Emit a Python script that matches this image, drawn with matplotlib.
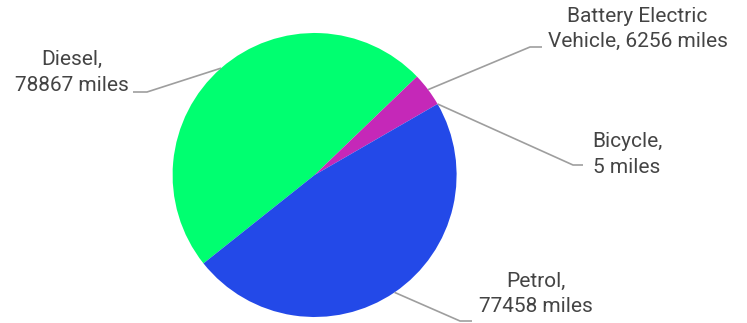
import numpy as np
import matplotlib
matplotlib.use("Agg")
import matplotlib.pyplot as plt

# Distance travelled per vehicle type
categories = ["Diesel", "Battery Electric Vehicle", "Bicycle", "Petrol"]
miles = [78867, 6256, 5, 77458]
colors = ["#00FF70", "#C528B8", "#C528B8", "#2349E8"]

# label text lines (two per slice)
label_lines = [
    ["Diesel,", "78867 miles"],
    ["Battery Electric", "Vehicle, 6256 miles"],
    ["Bicycle,", "5 miles"],
    ["Petrol,", "77458 miles"],
]

W, H = 747, 323
fig = plt.figure(figsize=(W / 100, H / 100), dpi=100)
ax = fig.add_axes([0, 0, 1, 1])

cx, cy, r = 314.6, H - 175.0, 142.0
wedges, _ = ax.pie(miles, colors=colors, startangle=-141.5, counterclock=False,
                   center=(cx, cy), radius=r,
                   wedgeprops=dict(linewidth=0))
ax.set_xlim(0, W)
ax.set_ylim(0, H)
ax.set_aspect("equal")
ax.axis("off")

# elbow / end of leader lines and text placement (pixel coords, y from top)
elbows = [(147, 92), (530, 47), (573, 165), (460, 321)]
ends = [(133, 92), (542, 47), (583, 165), (472, 321)]
text_x = [71.5, 637.5, 627, 536]
baselines = [(65, 91), (22, 47), (147, 173), (287, 312)]

line_col = "#9E9E9E"
text_col = "#444444"
for w, (ex, ey), (tx, ty), x0, (b1, b2), lines in zip(
        wedges, elbows, ends, text_x, baselines, label_lines):
    mid = np.deg2rad((w.theta1 + w.theta2) / 2)
    sx = cx + r * np.cos(mid)
    sy = cy + r * np.sin(mid)
    ax.plot([sx, ex, tx], [sy, H - ey, H - ty], color=line_col, lw=1.2,
            solid_capstyle="butt", clip_on=False)
    for txt, b in zip(lines, (b1, b2)):
        ax.text(x0, H - b, txt, ha="center", va="baseline", fontsize=15,
                family="Roboto", color=text_col)

fig.savefig("out.png", dpi=100)
